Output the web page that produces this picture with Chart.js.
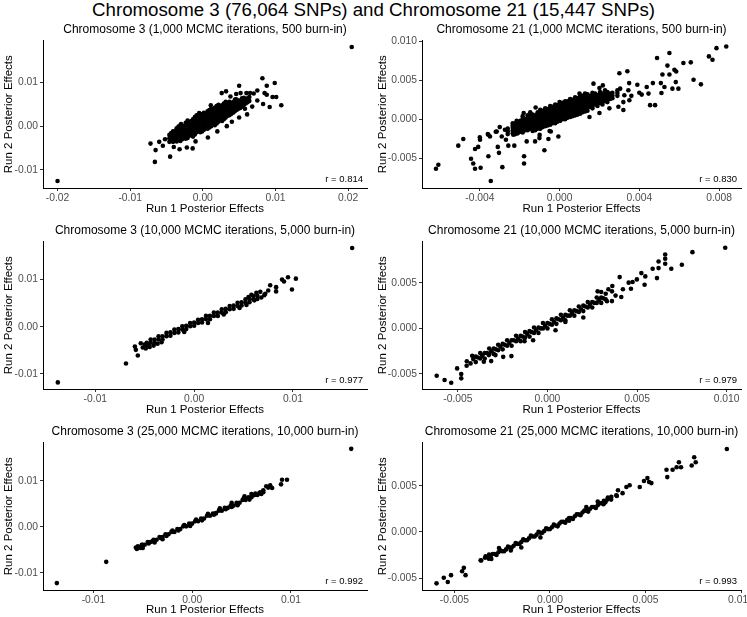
<!DOCTYPE html>
<html>
<head>
<meta charset="utf-8">
<script src="https://cdn.jsdelivr.net/npm/chart.js@4.4.1/dist/chart.umd.min.js"></script>
<style>
  body { margin: 0; background: #fff; width: 747px; height: 617px; position: relative; overflow: hidden; }
  #title { position: absolute; left: 0; top: -1px; width: 747px; text-align: center;
           font: 18.7px 'Liberation Sans', Arial, sans-serif; line-height: 22px; color: #000; }
  canvas { position: absolute; }
</style>
</head>
<body>
<div id="title">Chromosome 3 (76,064 SNPs) and Chromosome 21 (15,447 SNPs)</div>
<canvas id="p1"></canvas><canvas id="p2"></canvas>
<canvas id="p3"></canvas><canvas id="p4"></canvas>
<canvas id="p5"></canvas><canvas id="p6"></canvas>
<script>
// [run 1 effect, run 2 effect]
const chr3It1k = [
  [-0.0200,-0.0126],[0.0205,0.0182],[0.0082,0.0110],[0.0099,0.0099],[0.0050,0.0093],[0.0088,0.0093],
  [0.0075,0.0082],[0.0085,0.0076],[0.0101,0.0067],[0.0096,0.0067],[0.0088,0.0072],[0.0108,0.0048],
  [0.0092,0.0044],[0.0083,0.0051],[0.0075,0.0059],[0.0060,0.0076],[0.0065,0.0076],[0.0026,0.0076],
  [0.0032,0.0080],[0.0046,0.0074],[0.0052,0.0076],[0.0061,0.0027],[0.0033,0.0000],[-0.0072,-0.0040],
  [-0.0065,-0.0055],[-0.0066,-0.0082],[-0.0045,-0.0070],[-0.0052,-0.0030],[-0.0022,-0.0049],[-0.0014,-0.0051],
  [-0.0032,-0.0053],[0.0007,-0.0026],[0.0040,0.0010],[0.0050,0.0020],[0.0020,-0.0012],[-0.0010,-0.0035],
  [-0.0040,-0.0048],[0.0045,0.0062],[0.0070,0.0075],[0.0038,0.0068],[-0.0030,0.0005],[-0.0055,-0.0045],
  [-0.0060,-0.0036],[0.0058,0.0040],[0.0068,0.0045],[0.0011,0.0048],[-0.0005,0.0030],
  [-0.0046,-0.0036],[-0.0046,-0.0028],[-0.0046,-0.0020],
  [-0.0041,-0.0036],[-0.0041,-0.0028],[-0.0041,-0.0020],[-0.0041,-0.0012],
  [-0.0036,-0.0035],[-0.0036,-0.0025],[-0.0036,-0.0015],[-0.0036,-0.0005],
  [-0.0031,-0.0034],[-0.0031,-0.0025],[-0.0031,-0.0016],[-0.0031,-0.0007],[-0.0031,0.0002],
  [-0.0026,-0.0026],[-0.0026,-0.0017],[-0.0026,-0.0008],[-0.0026,0.0001],
  [-0.0021,-0.0027],[-0.0021,-0.0017],[-0.0021,-0.0007],[-0.0021,0.0003],[-0.0021,0.0013],
  [-0.0016,-0.0018],[-0.0016,-0.0008],[-0.0016,0.0002],[-0.0016,0.0012],
  [-0.0011,-0.0019],[-0.0011,-0.0009],[-0.0011,0.0001],[-0.0011,0.0011],[-0.0011,0.0021],
  [-0.0006,-0.0010],[-0.0006,0.0000],[-0.0006,0.0010],[-0.0006,0.0020],
  [-0.0001,-0.0012],[-0.0001,-0.0002],[-0.0001,0.0008],[-0.0001,0.0018],[-0.0001,0.0028],
  [0.0004,-0.0003],[0.0004,0.0007],[0.0004,0.0017],[0.0004,0.0027],
  [0.0009,-0.0003],[0.0009,0.0007],[0.0009,0.0017],[0.0009,0.0027],[0.0009,0.0037],
  [0.0014,0.0007],[0.0014,0.0017],[0.0014,0.0027],[0.0014,0.0037],
  [0.0019,0.0006],[0.0019,0.0016],[0.0019,0.0026],[0.0019,0.0036],[0.0019,0.0046],
  [0.0024,0.0015],[0.0024,0.0025],[0.0024,0.0035],[0.0024,0.0045],
  [0.0029,0.0016],[0.0029,0.0025],[0.0029,0.0034],[0.0029,0.0043],[0.0029,0.0052],
  [0.0034,0.0024],[0.0034,0.0033],[0.0034,0.0043],[0.0034,0.0052],
  [0.0039,0.0028],[0.0039,0.0036],[0.0039,0.0044],[0.0039,0.0052],
  [0.0044,0.0034],[0.0044,0.0043],[0.0044,0.0051],[0.0044,0.0060],
  [0.0049,0.0040],[0.0049,0.0049],[0.0049,0.0058],
  [0.0054,0.0045],[0.0054,0.0055],[0.0054,0.0064],
  [0.0059,0.0052],[0.0059,0.0061],[0.0064,0.0058],[0.0064,0.0067],
  [-0.00435,-0.0033],[-0.00435,-0.0024],[-0.00435,-0.0016],
  [-0.00385,-0.0032],[-0.00385,-0.0022],[-0.00385,-0.0012],
  [-0.00335,-0.0031],[-0.00335,-0.0021],[-0.00335,-0.0011],[-0.00335,-0.0001],
  [-0.00285,-0.0030],[-0.00285,-0.0020],[-0.00285,-0.0010],[-0.00285,0.0000],
  [-0.00235,-0.0029],[-0.00235,-0.0019],[-0.00235,-0.0009],[-0.00235,0.0001],[-0.00235,0.0008],
  [-0.00185,-0.0022],[-0.00185,-0.0012],[-0.00185,-0.0002],[-0.00185,0.0008],
  [-0.00135,-0.0024],[-0.00135,-0.0014],[-0.00135,-0.0004],[-0.00135,0.0006],[-0.00135,0.0016],
  [-0.00085,-0.0014],[-0.00085,-0.0004],[-0.00085,0.0006],[-0.00085,0.0016],[-0.00085,0.0025],
  [-0.00035,-0.0014],[-0.00035,-0.0004],[-0.00035,0.0006],[-0.00035,0.0016],[-0.00035,0.0026],
  [0.00015,-0.0008],[0.00015,0.0002],[0.00015,0.0012],[0.00015,0.0022],[0.00015,0.0031],
  [0.00065,-0.0006],[0.00065,0.0004],[0.00065,0.0014],[0.00065,0.0024],[0.00065,0.0034],
  [0.00115,0.0000],[0.00115,0.0010],[0.00115,0.0020],[0.00115,0.0030],[0.00115,0.0040],
  [0.00165,0.0002],[0.00165,0.0012],[0.00165,0.0022],[0.00165,0.0032],[0.00165,0.0042],
  [0.00215,0.0010],[0.00215,0.0020],[0.00215,0.0030],[0.00215,0.0040],[0.00215,0.0049],
  [0.00265,0.0012],[0.00265,0.0021],[0.00265,0.0030],[0.00265,0.0039],[0.00265,0.0048],
  [0.00315,0.0020],[0.00315,0.0029],[0.00315,0.0038],[0.00315,0.0047],[0.00315,0.0056],
  [0.00365,0.0025],[0.00365,0.0032],[0.00365,0.0040],[0.00365,0.0048],[0.00365,0.0056],
  [0.00415,0.0031],[0.00415,0.0039],[0.00415,0.0047],[0.00415,0.0055],
  [0.00465,0.0037],[0.00465,0.0045],[0.00465,0.0053],[0.00465,0.0061],
  [0.00515,0.0042],[0.00515,0.0050],[0.00515,0.0059],
  [0.00565,0.0049],[0.00565,0.0057],[0.00565,0.0065],
  [0.00615,0.0055],[0.00615,0.0064]
];
const chr21It1k = [
  [0.00836,0.00932],[0.00787,0.00911],[0.00749,0.00805],[0.00767,0.00763],[0.00551,0.00848],[0.00489,0.00785],
  [0.00621,0.00721],[0.00658,0.00729],[0.00541,0.00687],[0.00576,0.00633],[0.00585,0.00611],[0.00551,0.00573],
  [0.00516,0.00573],[0.00672,0.00506],[0.00709,0.00447],[0.00583,0.00476],[0.00566,0.00392],[0.00596,0.00392],
  [0.00511,0.00337],[0.00526,0.00413],[0.00508,0.00463],[0.00468,0.00463],[0.00454,0.00181],[0.00479,0.00181],
  [0.00300,0.00590],[0.00340,0.00615],[0.00170,0.00456],[0.00217,0.00434],[0.00349,0.00463],[0.00390,0.00443],
  [0.00437,0.00413],[0.00446,0.00329],[0.00412,0.00316],[0.00304,0.00392],[0.00345,0.00371],[0.00325,0.00308],
  [0.00350,0.00244],[0.00320,0.00118],[0.00295,0.00160],
  [-0.00620,-0.00633],[-0.00608,-0.00582],[-0.00508,-0.00338],[-0.00483,-0.00253],[-0.00444,-0.00506],[-0.00433,-0.00566],
  [-0.00424,-0.00633],[-0.00396,-0.00620],[-0.00424,-0.00380],[-0.00408,-0.00354],[-0.00399,-0.00262],[-0.00357,-0.00473],
  [-0.00287,-0.00613],[-0.00345,-0.00790],[-0.00357,-0.00199],[-0.00349,-0.00220],[-0.00315,-0.00157],[-0.00304,-0.00430],
  [-0.00310,-0.00354],[-0.00257,-0.00338],[-0.00227,-0.00338],[-0.00215,-0.00018],[-0.00198,-0.00051],[-0.00178,-0.00473],
  [-0.00178,-0.00566],[-0.00076,-0.00397],[-0.00056,-0.00253],[-0.00006,-0.00220],[-0.00044,-0.00157],[-0.00123,-0.00283],
  [-0.00101,-0.00241],[-0.00165,-0.00283],[-0.00274,-0.00135],[-0.00269,-0.00262],[-0.00232,-0.00199],
  [-0.0030,-0.0010],[-0.0029,-0.0022],[-0.0032,-0.0016],[-0.0036,-0.0019],[-0.0040,-0.0023],[-0.0010,-0.0020],
  [-0.0005,-0.0015],[0.0015,0.0003],[0.0020,0.0008],[0.0025,0.0014],[0.0032,0.0022],[0.0036,0.0030],
  [0.0040,0.0034],[-0.0018,0.0008],[-0.0012,0.0015],[0.0000,0.0022],[0.0010,0.0033],[0.0020,0.0040],
  [-0.0026,-0.0019],[-0.0026,-0.0012],[-0.0026,-0.00155],
  [-0.00235,-0.0018],[-0.00235,-0.0011],[-0.00235,-0.0005],[-0.00235,-0.00145],[-0.00235,-0.0008],
  [-0.0021,-0.0018],[-0.0021,-0.0011],[-0.0021,-0.0004],[-0.0021,-0.00145],[-0.0021,-0.00075],
  [-0.00185,-0.0017],[-0.00185,-0.0010],[-0.00185,-0.0003],[-0.00185,0.0004],[-0.00185,-0.00135],[-0.00185,-0.00065],[-0.00185,0.00005],
  [-0.0016,-0.0014],[-0.0016,-0.0007],[-0.0016,0.0000],[-0.0016,0.0005],[-0.0016,-0.00105],[-0.0016,-0.00035],[-0.0016,0.00025],
  [-0.00135,-0.0015],[-0.00135,-0.0008],[-0.00135,-0.0001],[-0.00135,0.0006],[-0.00135,-0.00115],[-0.00135,-0.00045],[-0.00135,0.00025],
  [-0.0011,-0.0012],[-0.0011,-0.0005],[-0.0011,0.0002],[-0.0011,0.0009],[-0.0011,-0.00085],[-0.0011,-0.00015],[-0.0011,0.00055],
  [-0.00085,-0.0010],[-0.00085,-0.0003],[-0.00085,0.0004],[-0.00085,0.0011],[-0.00085,-0.00065],[-0.00085,0.00005],[-0.00085,0.00075],
  [-0.0006,-0.0008],[-0.0006,-0.0001],[-0.0006,0.0006],[-0.0006,0.0013],[-0.0006,-0.00045],[-0.0006,0.00025],[-0.0006,0.00095],
  [-0.00035,-0.0005],[-0.00035,0.0002],[-0.00035,0.0009],[-0.00035,0.0016],[-0.00035,-0.00015],[-0.00035,0.00055],[-0.00035,0.00125],
  [-0.0001,-0.0003],[-0.0001,0.0004],[-0.0001,0.0011],[-0.0001,0.0018],[-0.0001,0.00005],[-0.0001,0.00075],[-0.0001,0.00145],
  [0.00015,0.0000],[0.00015,0.0007],[0.00015,0.0014],[0.00015,0.0021],[0.00015,0.00035],[0.00015,0.00105],[0.00015,0.00175],
  [0.0004,0.0002],[0.0004,0.0009],[0.0004,0.0016],[0.0004,0.0023],[0.0004,0.00055],[0.0004,0.00125],[0.0004,0.00195],
  [0.00065,0.0004],[0.00065,0.0011],[0.00065,0.0018],[0.00065,0.0025],[0.00065,0.00075],[0.00065,0.00145],[0.00065,0.00215],
  [0.0009,0.0006],[0.0009,0.0013],[0.0009,0.0020],[0.0009,0.0027],[0.0009,0.00095],[0.0009,0.00165],[0.0009,0.00235],
  [0.00115,0.0009],[0.00115,0.0016],[0.00115,0.0023],[0.00115,0.0030],[0.00115,0.00125],[0.00115,0.00195],[0.00115,0.00265],
  [0.0014,0.0011],[0.0014,0.0018],[0.0014,0.0025],[0.0014,0.0032],[0.0014,0.00145],[0.0014,0.00215],[0.0014,0.00285],
  [0.00165,0.0014],[0.00165,0.0021],[0.00165,0.0028],[0.00165,0.0034],[0.00165,0.00175],[0.00165,0.00245],[0.00165,0.0031],
  [0.0019,0.0017],[0.0019,0.0024],[0.0019,0.0031],[0.0019,0.00205],[0.0019,0.00275],
  [0.00215,0.0019],[0.00215,0.0026],[0.00215,0.0033],[0.00215,0.00225],[0.00215,0.00295],
  [0.0024,0.0022],[0.0024,0.0029],[0.0024,0.0035],[0.0024,0.00255],[0.0024,0.0032],
  [0.00265,0.0027],[0.00265,0.0034],[0.00265,0.00305],[0.0029,0.0030],[0.0029,0.0037],[0.0029,0.00335],
  [-0.00222,-0.0019],[-0.00222,-0.0012],[-0.00222,-0.0005],[-0.00222,-0.00155],[-0.00222,-0.00085],
  [-0.00197,-0.0016],[-0.00197,-0.0009],[-0.00197,-0.0002],[-0.00197,-0.00125],[-0.00197,-0.00055],
  [-0.00172,-0.0014],[-0.00172,-0.0007],[-0.00172,0.0000],[-0.00172,-0.00105],[-0.00172,-0.00035],
  [-0.00147,-0.0012],[-0.00147,-0.0005],[-0.00147,0.0002],[-0.00147,0.0009],[-0.00147,-0.00085],[-0.00147,-0.00015],[-0.00147,0.00055],
  [-0.00122,-0.0014],[-0.00122,-0.0009],[-0.00122,-0.0002],[-0.00122,0.0005],[-0.00122,-0.00055],[-0.00122,0.00015],
  [-0.00097,-0.0012],[-0.00097,-0.0007],[-0.00097,0.0000],[-0.00097,0.0007],[-0.00097,0.0012],[-0.00097,-0.00035],[-0.00097,0.00035],[-0.00097,0.00095],
  [-0.00072,-0.0009],[-0.00072,-0.0005],[-0.00072,0.0002],[-0.00072,0.0009],[-0.00072,0.0014],[-0.00072,-0.00015],[-0.00072,0.00055],[-0.00072,0.00115],
  [-0.00047,-0.0007],[-0.00047,-0.0002],[-0.00047,0.0005],[-0.00047,0.0012],[-0.00047,0.0017],[-0.00047,0.00015],[-0.00047,0.00085],[-0.00047,0.00145],
  [-0.00022,-0.0005],[-0.00022,0.0000],[-0.00022,0.0007],[-0.00022,0.0014],[-0.00022,0.0019],[-0.00022,0.00035],[-0.00022,0.00105],[-0.00022,0.00165],
  [0.00003,-0.0002],[0.00003,0.0002],[0.00003,0.0009],[0.00003,0.0016],[0.00003,0.0021],[0.00003,0.00055],[0.00003,0.00125],[0.00003,0.00185],
  [0.00028,0.0000],[0.00028,0.0005],[0.00028,0.0012],[0.00028,0.0019],[0.00028,0.0023],[0.00028,0.00085],[0.00028,0.00155],[0.00028,0.0021],
  [0.00053,0.0003],[0.00053,0.0007],[0.00053,0.0014],[0.00053,0.0021],[0.00053,0.0026],[0.00053,0.00105],[0.00053,0.00175],[0.00053,0.00235],
  [0.00078,0.0005],[0.00078,0.0009],[0.00078,0.0016],[0.00078,0.0023],[0.00078,0.0028],[0.00078,0.00125],[0.00078,0.00195],[0.00078,0.00255],
  [0.00103,0.0007],[0.00103,0.0012],[0.00103,0.0019],[0.00103,0.0026],[0.00103,0.0030],[0.00103,0.00155],[0.00103,0.00225],[0.00103,0.0028],
  [0.00128,0.0010],[0.00128,0.0014],[0.00128,0.0021],[0.00128,0.0028],[0.00128,0.0033],[0.00128,0.00175],[0.00128,0.00245],[0.00128,0.00305],
  [0.00153,0.0016],[0.00153,0.0023],[0.00153,0.0030],[0.00153,0.00195],[0.00153,0.00265],
  [0.00178,0.0019],[0.00178,0.0026],[0.00178,0.0033],[0.00178,0.00225],[0.00178,0.00295],
  [0.00203,0.0021],[0.00203,0.0028],[0.00203,0.0035],[0.00203,0.00245],[0.00203,0.00315],
  [0.00228,0.0023],[0.00228,0.0030],[0.00228,0.0037],[0.00228,0.00265],[0.00228,0.00335],
  [0.00253,0.0026],[0.00253,0.0033],[0.00253,0.00295]
];
const chr3It10k = [
  [0.0160,0.0167],[-0.0138,-0.0118],[-0.0069,-0.0078],[-0.0057,-0.0061],[-0.0060,-0.0042],[-0.0059,-0.0049],
  [-0.0054,-0.0035],[0.0103,0.0102],[0.0095,0.0105],[0.0089,0.0100],[0.0091,0.0096],[0.0099,0.0079],
  [0.0077,0.0088],[0.0083,0.0084],[0.0083,0.0075],[0.0075,0.0077],[0.0067,0.0074],[0.0063,0.0072],
  [0.0071,0.0067],[0.0055,0.0063],[0.0068,0.0062],[0.0072,0.0070],[0.0058,0.0068],[0.0046,0.0040],
  [0.0053,0.0046],[0.0061,0.0056],[0.0030,0.0026],[-0.0010,-0.0011],[0.0014,0.0008],
  [-0.0052,-0.0044],[-0.0049,-0.0046],[-0.0045,-0.0043],[-0.0041,-0.0040],[-0.0037,-0.0036],[-0.0033,-0.0033],
  [-0.0050,-0.0038],[-0.0046,-0.0039],
  [-0.0048,-0.0041],[-0.0048,-0.0034],[-0.0044,-0.0034],[-0.0044,-0.0027],[-0.0040,-0.0034],[-0.0040,-0.0027],
  [-0.0036,-0.0027],[-0.0036,-0.0020],[-0.0032,-0.0027],[-0.0032,-0.0020],[-0.0028,-0.0020],[-0.0028,-0.0013],
  [-0.0024,-0.0019],[-0.0024,-0.0012],[-0.0020,-0.0013],[-0.0020,-0.0006],[-0.0016,-0.0012],[-0.0016,-0.0005],
  [-0.0012,-0.0006],[-0.0012,0.0001],[-0.0008,-0.0005],[-0.0008,0.0002],[-0.0004,0.0001],[-0.0004,0.0008],
  [0.0000,0.0002],[0.0000,0.0009],[0.0004,0.0008],[0.0004,0.0015],[0.0008,0.0009],[0.0008,0.0016],
  [0.0012,0.0016],[0.0012,0.0023],[0.0016,0.0016],[0.0016,0.0023],[0.0020,0.0023],[0.0020,0.0030],
  [0.0024,0.0023],[0.0024,0.0030],[0.0028,0.0030],[0.0028,0.0037],[0.0032,0.0031],[0.0032,0.0038],
  [0.0036,0.0037],[0.0036,0.0044],[0.0040,0.0038],[0.0040,0.0045],[0.0044,0.0044],[0.0044,0.0051],
  [0.0048,0.0045],[0.0048,0.0052],[0.0052,0.0051],[0.0052,0.0058],[0.0056,0.0052],[0.0056,0.0059],
  [0.0060,0.0058],[0.0060,0.0065],[0.0064,0.0059],[0.0064,0.0066]
];
const chr21It10k = [
  [0.00992,0.00885],[0.00809,0.00837],[0.00750,0.00699],[0.00691,0.00655],[0.00657,0.00812],[0.00657,0.00765],
  [0.00657,0.00710],[0.00620,0.00735],[0.00620,0.00662],[0.00611,0.00552],[0.00587,0.00655],[0.00524,0.00607],
  [0.00546,0.00571],[0.00542,0.00480],[0.00499,0.00538],[0.00475,0.00509],[0.00453,0.00502],[0.00403,0.00563],
  [0.00421,0.00429],[0.00412,0.00345],[0.00466,0.00436],[0.00362,0.00465],[0.00360,0.00407],[0.00332,0.00298],
  [0.00280,0.00407],
  [-0.00618,-0.00520],[-0.00574,-0.00567],[-0.00537,-0.00596],[-0.00504,-0.00439],[-0.00481,-0.00501],[-0.00481,-0.00548],
  [-0.00451,-0.00410],[-0.00429,-0.00384],[-0.00414,-0.00337],[-0.00364,-0.00293],[-0.00355,-0.00366],[-0.00327,-0.00293],
  [-0.00314,-0.00359],[-0.00290,-0.00293],[-0.00247,-0.00312],[-0.00201,-0.00304],[-0.00128,-0.00140],[0.00045,-0.00020],
  [-0.0045,-0.0036],[-0.0042,-0.0030],[0.0010,0.0007],[0.0020,0.0012],[-0.0008,-0.0013],[0.0036,0.0030],
  [0.0038,0.0036],[0.0034,0.0043],[0.0030,0.0040],
  [-0.0040,-0.0037],[-0.0040,-0.0031],[-0.00375,-0.0033],[-0.00375,-0.0027],[-0.0035,-0.0033],[-0.0035,-0.0027],
  [-0.00325,-0.0028],[-0.00325,-0.0022],[-0.0030,-0.0028],[-0.0030,-0.0022],[-0.00275,-0.0024],[-0.00275,-0.0018],
  [-0.0025,-0.0023],[-0.0025,-0.0017],[-0.00225,-0.0019],[-0.00225,-0.0013],[-0.0020,-0.0019],[-0.0020,-0.0013],
  [-0.00175,-0.0014],[-0.00175,-0.0008],[-0.0015,-0.0014],[-0.0015,-0.0008],[-0.00125,-0.0010],[-0.00125,-0.0004],
  [-0.0010,-0.0009],[-0.0010,-0.0003],[-0.00075,-0.0005],[-0.00075,0.0001],[-0.0005,-0.0005],[-0.0005,0.0001],
  [-0.00025,0.0000],[-0.00025,0.0006],[0.0000,0.0000],[0.0000,0.0006],[0.00025,0.0004],[0.00025,0.0010],
  [0.0005,0.0005],[0.0005,0.0011],[0.00075,0.0009],[0.00075,0.0015],[0.0010,0.0009],[0.0010,0.0015],
  [0.00125,0.0014],[0.00125,0.0020],[0.0015,0.0014],[0.0015,0.0020],[0.00175,0.0018],[0.00175,0.0024],
  [0.0020,0.0019],[0.0020,0.0025],[0.00225,0.0023],[0.00225,0.0029],[0.0025,0.0023],[0.0025,0.0029],
  [0.00275,0.0028],[0.00275,0.0034],[0.0030,0.0028],[0.0030,0.0034],[0.00325,0.0032],[0.00325,0.0038],
  [-0.00388,-0.0032],[-0.00363,-0.0030],[-0.00338,-0.0027],[-0.00313,-0.0025],[-0.00288,-0.0023],[-0.00263,-0.0020],
  [-0.00238,-0.0018],[-0.00213,-0.0016],[-0.00188,-0.0013],[-0.00163,-0.0011],[-0.00138,-0.0009],[-0.00113,-0.0006],
  [-0.00088,-0.0004],[-0.00063,-0.0002],[-0.00038,0.0000],[-0.00013,0.0003],[0.00012,0.0005],[0.00037,0.0007],
  [0.00062,0.0010],[0.00087,0.0012],[0.00112,0.0014],[0.00137,0.0017],[0.00162,0.0019],[0.00187,0.0021],
  [0.00212,0.0024],[0.00237,0.0026],[0.00262,0.0028],[0.00287,0.0031],[0.00312,0.0033]
];
const chr3It25k = [
  [0.0161,0.0169],[-0.0137,-0.0122],[-0.0087,-0.0076],[0.0090,0.0092],[0.0091,0.0102],[0.0096,0.0102],
  [0.0075,0.0088],[0.0079,0.0090],[0.0077,0.0085],[0.0072,0.0079],[0.0063,0.0069],[0.0060,0.0071],
  [0.0053,0.0066],[0.0055,0.0062],[0.0081,0.0084],[0.0068,0.0073],[0.0046,0.0047],[0.0040,0.0043],
  [0.0024,0.0030],[-0.0030,-0.0027],[-0.0040,-0.0031],
  [-0.0056,-0.0048],[-0.0055,-0.0042],[-0.0052,-0.0046],[-0.0050,-0.0039],[-0.0057,-0.0045],
  [-0.0054,-0.0045],[-0.0051,-0.0039],[-0.0048,-0.0039],[-0.0045,-0.0033],[-0.0042,-0.0033],[-0.0039,-0.0028],
  [-0.0036,-0.0028],[-0.0033,-0.0022],[-0.0030,-0.0022],[-0.0027,-0.0016],[-0.0024,-0.0016],[-0.0021,-0.0011],
  [-0.0018,-0.0011],[-0.0015,-0.0005],[-0.0012,-0.0005],[-0.0009,0.0001],[-0.0006,0.0001],[-0.0003,0.0007],
  [0.0000,0.0007],[0.0003,0.0012],[0.0006,0.0012],[0.0009,0.0018],[0.0012,0.0018],[0.0015,0.0024],
  [0.0018,0.0024],[0.0021,0.0029],[0.0024,0.0029],[0.0027,0.0035],[0.0030,0.0035],[0.0033,0.0041],
  [0.0036,0.0041],[0.0039,0.0046],[0.0042,0.0046],[0.0045,0.0052],[0.0048,0.0052],[0.0051,0.0058],
  [0.0054,0.0058],[0.0057,0.0064],[0.0060,0.0064],[0.0063,0.0069],[0.0066,0.0069],[0.0069,0.0075],
  [0.0072,0.0075],
  [-0.0050,-0.0046],[-0.0044,-0.0036],[-0.0038,-0.0034],[-0.0032,-0.0024],[-0.0026,-0.0020],[-0.0020,-0.0008],
  [-0.0014,-0.0008],[-0.0008,0.0004],[-0.0002,0.0002],[0.0004,0.0016],[0.0010,0.0014],[0.0016,0.0028],
  [0.0022,0.0026],[0.0028,0.0040],[0.0034,0.0038],[0.0040,0.0052],[0.0046,0.0049],[0.0052,0.0061],
  [0.0058,0.0059],[0.0064,0.0072],[0.0070,0.0071]
];
const chr21It25k = [
  [0.00926,0.00899],[0.00755,0.00809],[0.00763,0.00755],[0.00742,0.00719],[0.00675,0.00755],[0.00686,0.00701],
  [0.00663,0.00701],[0.00610,0.00673],[0.00642,0.00673],[0.00614,0.00594],[0.00510,0.00583],[0.00519,0.00540],
  [0.00531,0.00529],[0.00492,0.00551],[0.00470,0.00486],[0.00417,0.00505],[0.00400,0.00486],[0.00356,0.00451],
  [0.00347,0.00397],[0.00282,0.00336],[0.00303,0.00373],[0.00321,0.00379],
  [-0.00594,-0.00558],[-0.00556,-0.00497],[-0.00535,-0.00544],[-0.00518,-0.00469],[-0.00460,-0.00426],[-0.00451,-0.00390],
  [-0.00442,-0.00469],[-0.00363,-0.00308],[-0.00337,-0.00265],[-0.00319,-0.00247],[-0.00307,-0.00293],[-0.00267,-0.00175],
  [-0.00205,-0.00201],
  [-0.0036,-0.0031],[-0.0034,-0.0028],[0.0032,0.0035],[0.0035,0.0039],[0.0038,0.0042],[0.0025,0.0033],
  [-0.0005,-0.0006],[0.0010,0.0012],[-0.0015,-0.0017],[0.0019,0.0027],
  [-0.0032,-0.0029],[-0.0030,-0.0024],[-0.0028,-0.0025],[-0.0026,-0.0020],[-0.0024,-0.0021],[-0.0022,-0.0016],
  [-0.0020,-0.0017],[-0.0018,-0.0012],[-0.0016,-0.0013],[-0.0014,-0.0008],[-0.0012,-0.0009],[-0.0010,-0.0004],
  [-0.0008,-0.0005],[-0.0006,0.0000],[-0.0004,-0.0001],[-0.0002,0.0004],[0.0000,0.0003],[0.0002,0.0008],
  [0.0004,0.0006],[0.0006,0.0011],[0.0008,0.0010],[0.0010,0.0015],[0.0012,0.0014],[0.0014,0.0019],
  [0.0016,0.0018],[0.0018,0.0023],[0.0020,0.0022],[0.0022,0.0027],[0.0024,0.0026],[0.0026,0.0031],
  [0.0028,0.0030],[0.0030,0.0035],
  [-0.0031,-0.0026],[-0.0029,-0.0024],[-0.0027,-0.0022],[-0.0025,-0.0021],[-0.0023,-0.0019],[-0.0021,-0.0017],
  [-0.0019,-0.0015],[-0.0017,-0.0013],[-0.0015,-0.0011],[-0.0013,-0.0009],[-0.0011,-0.0007],[-0.0009,-0.0005],
  [-0.0007,-0.0003],[-0.0005,-0.0001],[-0.0003,0.0001],[-0.0001,0.0003],[0.0001,0.0005],[0.0003,0.0007],
  [0.0005,0.0009],[0.0007,0.0011],[0.0009,0.0013],[0.0011,0.0015],[0.0013,0.0017],[0.0015,0.0019],
  [0.0017,0.0021],[0.0019,0.0023],[0.0021,0.0025],[0.0023,0.0027],[0.0025,0.0029],[0.0027,0.0031],
  [0.0029,0.0032]
];

const panelTitles = [
  'Chromosome 3 (1,000 MCMC iterations, 500 burn-in)',
  'Chromosome 21 (1,000 MCMC iterations, 500 burn-in)',
  'Chromosome 3 (10,000 MCMC iterations, 5,000 burn-in)',
  'Chromosome 21 (10,000 MCMC iterations, 5,000 burn-in)',
  'Chromosome 3 (25,000 MCMC iterations, 10,000 burn-in)',
  'Chromosome 21 (25,000 MCMC iterations, 10,000 burn-in)'
];
const rLabels = ['r = 0.814', 'r = 0.830', 'r = 0.977', 'r = 0.979', 'r = 0.992', 'r = 0.993'];

const chr3XTicks1k = [-0.02, -0.01, 0, 0.01, 0.02];
const chr3XTicks = [-0.01, 0, 0.01];
const chr3YTicks = [-0.01, 0, 0.01];
const chr21XTicks1k = [-0.004, 0, 0.004, 0.008];
const chr21YTicks1k = [-0.005, 0, 0.005, 0.010];
const chr21XTicks = [-0.005, 0, 0.005, 0.010];
const chr21YTicks = [-0.005, 0, 0.005];

const FONT = "'Liberation Sans', Arial, sans-serif";

// draws the correlation text in the lower right corner of the panel
const rLabelPlugin = {
  id: 'rLabel',
  afterDatasetsDraw(chart, args, opts) {
    const { ctx, chartArea } = chart;
    ctx.save();
    ctx.font = '9.5px ' + FONT;
    ctx.fillStyle = '#000';
    ctx.textAlign = 'right';
    ctx.textBaseline = 'middle';
    ctx.fillText(opts.text, chartArea.right - 4, chartArea.bottom - 9);
    ctx.restore();
  }
};

const rows = [{ top: 20, h: 196 }, { top: 221, h: 196 }, { top: 422, h: 195 }];
const cols = [{ left: 0, w: 374, yW: 43, padR: 7 }, { left: 374, w: 373, yW: 48, padR: 6 }];
const PLOT_BOTTOM = 168;

const panels = [
  { data: chr3It1k,   xt: chr3XTicks1k,  yt: chr3YTicks,    x: [-0.0220, 0.0226],  y: [-0.0142, 0.0197],   d: 2 },
  { data: chr21It1k,  xt: chr21XTicks1k, yt: chr21YTicks1k, x: [-0.0069, 0.0091],  y: [-0.0088, 0.0101],   d: 3 },
  { data: chr3It10k,  xt: chr3XTicks,    yt: chr3YTicks,    x: [-0.0153, 0.0175],  y: [-0.0132, 0.0181],   d: 2 },
  { data: chr21It10k, xt: chr21XTicks,   yt: chr21YTicks,   x: [-0.0070, 0.0108],  y: [-0.00665, 0.00955], d: 3 },
  { data: chr3It25k,  xt: chr3XTicks,    yt: chr3YTicks,    x: [-0.0151, 0.0177],  y: [-0.0137, 0.0183],   d: 2 },
  { data: chr21It25k, xt: chr21XTicks,   yt: chr21YTicks,   x: [-0.0067, 0.0100],  y: [-0.0063, 0.0097],   d: 3 }
];

panels.forEach((p, i) => {
  const row = rows[Math.floor(i / 2)];
  const col = cols[i % 2];
  const canvas = document.getElementById('p' + (i + 1));
  canvas.width = col.w;
  canvas.height = row.h;
  canvas.style.left = col.left + 'px';
  canvas.style.top = row.top + 'px';

  const axisCommon = {
    type: 'linear',
    grid: { display: true, drawOnChartArea: false, drawTicks: true, tickLength: 3, color: '#333', tickWidth: 1 },
    border: { display: true, color: '#000', width: 1 },
    ticks: {
      color: '#4d4d4d',
      font: { family: FONT, size: 10.3 },
      autoSkip: false,
      maxRotation: 0,
      callback: v => v.toFixed(p.d)
    }
  };

  new Chart(canvas.getContext('2d'), {
    type: 'scatter',
    data: {
      datasets: [{
        data: p.data.map(([a, b]) => ({ x: a, y: b })),
        pointRadius: 2.3,
        pointBackgroundColor: '#000',
        pointBorderWidth: 0
      }]
    },
    plugins: [rLabelPlugin],
    options: {
      responsive: false,
      animation: false,
      events: [],
      layout: { autoPadding: false, padding: { left: 0, right: col.padR, top: 0, bottom: 0 } },
      plugins: {
        legend: { display: false },
        tooltip: { enabled: false },
        title: {
          display: true,
          text: panelTitles[i],
          fullSize: false,
          color: '#000',
          font: { family: FONT, size: 12, weight: 'normal' },
          padding: { top: 2, bottom: 4 }
        },
        rLabel: { text: rLabels[i] }
      },
      scales: {
        x: {
          ...axisCommon,
          min: p.x[0],
          max: p.x[1],
          ticks: { ...axisCommon.ticks, padding: 1 },
          afterBuildTicks: s => { s.ticks = p.xt.map(v => ({ value: v })); },
          afterFit: s => { s.height = row.h - PLOT_BOTTOM; s.paddingLeft = 0; s.paddingRight = 0; },
          title: { display: true, text: 'Run 1 Posterior Effects', color: '#000',
                   font: { family: FONT, size: 11.5 }, padding: { top: 0, bottom: 0 } }
        },
        y: {
          ...axisCommon,
          min: p.y[0],
          max: p.y[1],
          ticks: { ...axisCommon.ticks, padding: 2 },
          afterBuildTicks: s => { s.ticks = p.yt.map(v => ({ value: v })); },
          afterFit: s => { s.width = col.yW; s.paddingTop = 0; s.paddingBottom = 0; },
          title: { display: true, text: 'Run 2 Posterior Effects', color: '#000',
                   font: { family: FONT, size: 11.5 }, padding: { top: 2, bottom: 0 } }
        }
      }
    }
  });
});
</script>
</body>
</html>
